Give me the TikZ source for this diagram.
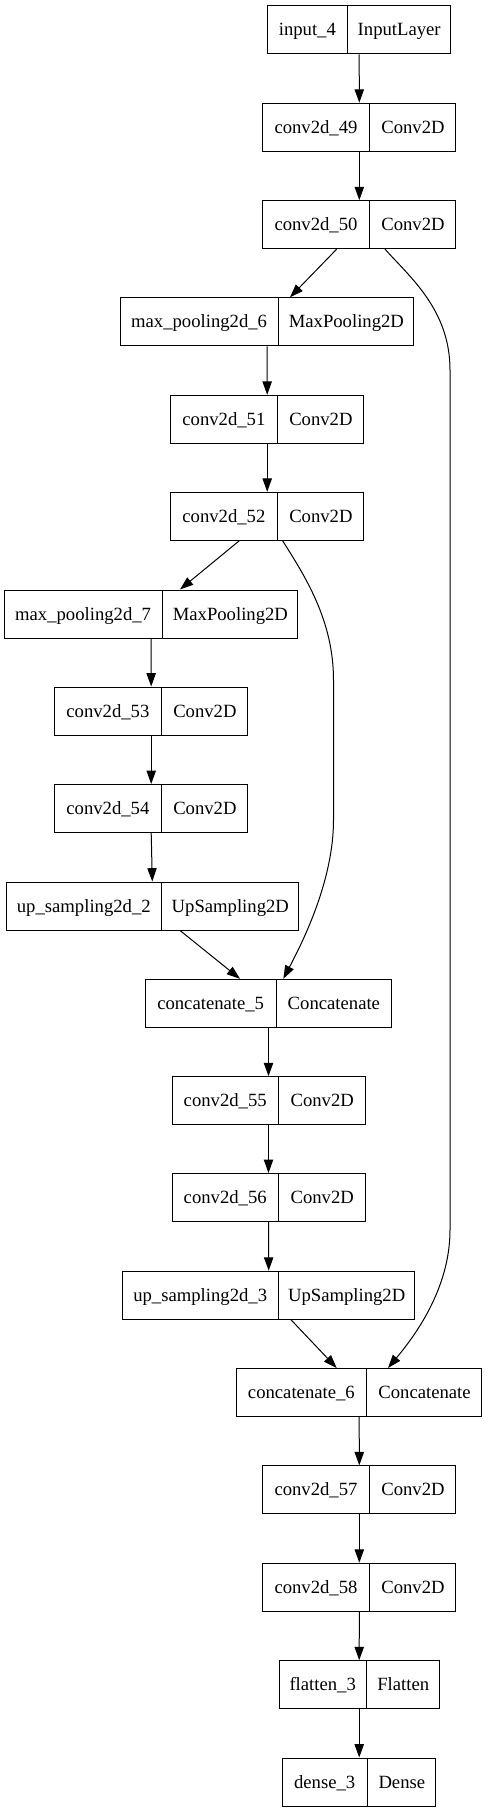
\documentclass[tikz,border=0pt]{standalone}
\usepackage{fontspec}
\setmainfont{Liberation Serif}
\usetikzlibrary{shapes.multipart,arrows.meta}
\newcommand{\layerfield}[2]{\makebox[#1]{\fontsize{14pt}{17pt}\selectfont\rule[-13.5pt]{0pt}{36pt}#2}}
\tikzset{
    layer/.style={draw, rectangle split, rectangle split horizontal, rectangle split parts=2, inner sep=0pt, line width=0.75pt},
    edge/.style={-{Triangle[length=10pt,width=7pt]}, line width=0.75pt}
}
\begin{document}
\begin{tikzpicture}[x=0.75pt,y=-0.75pt]
    \useasboundingbox (0,0) rectangle (487,1812);
    \node[layer] (input4) at (359.2,29.9) {\layerfield{59.25pt}{input\_4}\nodepart{two}\layerfield{77pt}{InputLayer}};
    \node[layer] (conv49) at (359.3,127.2) {\layerfield{79.8pt}{conv2d\_49}\nodepart{two}\layerfield{64.2pt}{Conv2D}};
    \node[layer] (conv50) at (359.3,224.7) {\layerfield{79.8pt}{conv2d\_50}\nodepart{two}\layerfield{64.2pt}{Conv2D}};
    \node[layer] (pool6) at (267,321.8) {\layerfield{118.3pt}{max\_pooling2d\_6}\nodepart{two}\layerfield{101.1pt}{MaxPooling2D}};
    \node[layer] (conv51) at (267.2,419.3) {\layerfield{79.8pt}{conv2d\_51}\nodepart{two}\layerfield{64.2pt}{Conv2D}};
    \node[layer] (conv52) at (267.2,516.3) {\layerfield{79.8pt}{conv2d\_52}\nodepart{two}\layerfield{64.2pt}{Conv2D}};
    \node[layer] (pool7) at (151,614) {\layerfield{118.3pt}{max\_pooling2d\_7}\nodepart{two}\layerfield{101.1pt}{MaxPooling2D}};
    \node[layer] (conv53) at (151.2,711) {\layerfield{79.8pt}{conv2d\_53}\nodepart{two}\layerfield{64.2pt}{Conv2D}};
    \node[layer] (conv54) at (151.2,808.5) {\layerfield{79.8pt}{conv2d\_54}\nodepart{two}\layerfield{64.2pt}{Conv2D}};
    \node[layer] (up2) at (152.3,906) {\layerfield{116.25pt}{up\_sampling2d\_2}\nodepart{two}\layerfield{102pt}{UpSampling2D}};
    \node[layer] (cat5) at (268.5,1003.3) {\layerfield{97.3pt}{concatenate\_5}\nodepart{two}\layerfield{86pt}{Concatenate}};
    \node[layer] (conv55) at (268.5,1100.7) {\layerfield{79.8pt}{conv2d\_55}\nodepart{two}\layerfield{64.2pt}{Conv2D}};
    \node[layer] (conv56) at (268.5,1197.5) {\layerfield{79.8pt}{conv2d\_56}\nodepart{two}\layerfield{64.2pt}{Conv2D}};
    \node[layer] (up3) at (268.7,1295.2) {\layerfield{116.25pt}{up\_sampling2d\_3}\nodepart{two}\layerfield{102pt}{UpSampling2D}};
    \node[layer] (cat6) at (359.2,1392.5) {\layerfield{97.3pt}{concatenate\_6}\nodepart{two}\layerfield{86pt}{Concatenate}};
    \node[layer] (conv57) at (359.3,1489.8) {\layerfield{79.8pt}{conv2d\_57}\nodepart{two}\layerfield{64.2pt}{Conv2D}};
    \node[layer] (conv58) at (359.3,1587.2) {\layerfield{79.8pt}{conv2d\_58}\nodepart{two}\layerfield{64.2pt}{Conv2D}};
    \node[layer] (flat3) at (359.2,1684.7) {\layerfield{65.25pt}{flatten\_3}\nodepart{two}\layerfield{54pt}{Flatten}};
    \node[layer] (dense3) at (359.2,1782) {\layerfield{63.2pt}{dense\_3}\nodepart{two}\layerfield{51pt}{Dense}};
    \coordinate (skipa1) at (450,370);
    \coordinate (skipa2) at (450,1230);
    \coordinate (skipb1) at (333.5,680);
    \coordinate (skipb2) at (333.5,820);
    \draw[edge] (input4.south) -- (conv49.north);
    \draw[edge] (conv49.south) -- (conv50.north);
    \draw[edge] ([xshift=-17pt]conv50.south) -- ([xshift=17.25pt]pool6.north);
    \draw[edge] (pool6.south) -- (conv51.north);
    \draw[edge] (conv51.south) -- (conv52.north);
    \draw[edge] ([xshift=-21pt]conv52.south) -- ([xshift=21.75pt]pool7.north);
    \draw[edge] (pool7.south) -- (conv53.north);
    \draw[edge] (conv53.south) -- (conv54.north);
    \draw[edge] (conv54.south) -- (up2.north);
    \draw[edge] ([xshift=20.8pt]up2.south) -- ([xshift=-21.4pt]cat5.north);
    \draw[edge] ([xshift=11.6pt]conv52.south) .. controls +(22,35) and +(0,-60) .. (skipb1) -- (skipb2) .. controls +(0,60) and +(20,-38) .. ([xshift=11.1pt]cat5.north);
    \draw[edge] (cat5.south) -- (conv55.north);
    \draw[edge] (conv55.south) -- (conv56.north);
    \draw[edge] (conv56.south) -- (up3.north);
    \draw[edge] ([xshift=16.7pt]up3.south) -- ([xshift=-16.9pt]cat6.north);
    \draw[edge] ([xshift=19.3pt]conv50.south) .. controls +(25,28) and +(0,-60) .. (skipa1) -- (skipa2) .. controls +(0,60) and +(25,-30) .. ([xshift=21.6pt]cat6.north);
    \draw[edge] (cat6.south) -- (conv57.north);
    \draw[edge] (conv57.south) -- (conv58.north);
    \draw[edge] (conv58.south) -- (flat3.north);
    \draw[edge] (flat3.south) -- (dense3.north);
\end{tikzpicture}
\end{document}
